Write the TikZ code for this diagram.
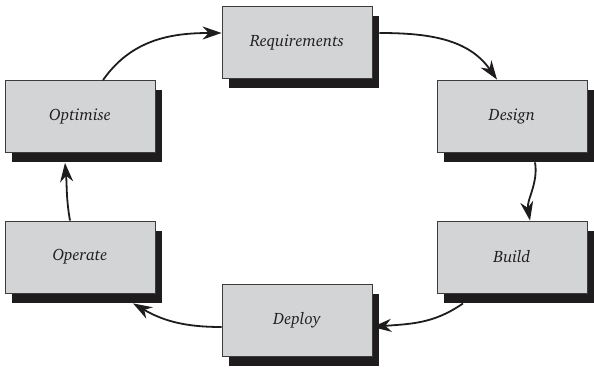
\documentclass[tikz,border=0pt]{standalone}
\usepackage[T1]{fontenc}
\usepackage{charter}
\usetikzlibrary{arrows.meta,shadows}
\definecolor{boxfill}{RGB}{211,212,214}
\definecolor{boxline}{RGB}{60,60,60}
\definecolor{shade}{RGB}{30,28,29}
\tikzset{
  stage/.style={draw=boxline, line width=0.8pt, fill=boxfill,
    minimum width=150pt, minimum height=72pt, inner sep=0pt,
    font=\fontsize{16.5}{20}\selectfont\itshape, text=shade,
    drop shadow={shadow xshift=7pt, shadow yshift=-10pt, fill=shade, opacity=1}},
  flow/.style={line width=1.8pt, draw=shade,
    -{Stealth[length=19pt, width=13pt, inset=6pt]}}
}
\begin{document}
\begin{tikzpicture}[x=1pt, y=1pt]
  \useasboundingbox (0,0) rectangle (594,367);
  % the six stages of the cycle
  \node[stage] (req) at (297,325) {Requirements};
  \node[stage] (des) at (512,251) {Design};
  \node[stage] (bld) at (512,110) {Build};
  \node[stage] (dep) at (297,47)  {Deploy};
  \node[stage] (ope) at (80,110)  {Operate};
  \node[stage] (opt) at (80,250.5) {Optimise};
  % connectors running round the cycle
  \draw[flow] ([xshift=7pt, yshift=9pt]req.east) to[out=0, in=125] ([xshift=-15pt]des.north);
  \draw[flow] ([xshift=23pt, yshift=-10pt]des.south) to[out=-80, in=100, looseness=0.9] ([xshift=18pt]bld.north);
  \draw[flow] ([xshift=-49pt, yshift=-10pt]bld.south) to[out=-145, in=5] ([yshift=-7pt]dep.east);
  \draw[flow] ([yshift=-7pt]dep.west) to[out=180, in=-30] ([xshift=53pt, yshift=-10pt]ope.south);
  \draw[flow] ([xshift=-10pt]ope.north) to[out=100, in=-85] ([xshift=-15pt, yshift=-10pt]opt.south);
  \draw[flow] ([xshift=23pt]opt.north) to[out=55, in=180] ([yshift=9pt]req.west);
\end{tikzpicture}
\end{document}
